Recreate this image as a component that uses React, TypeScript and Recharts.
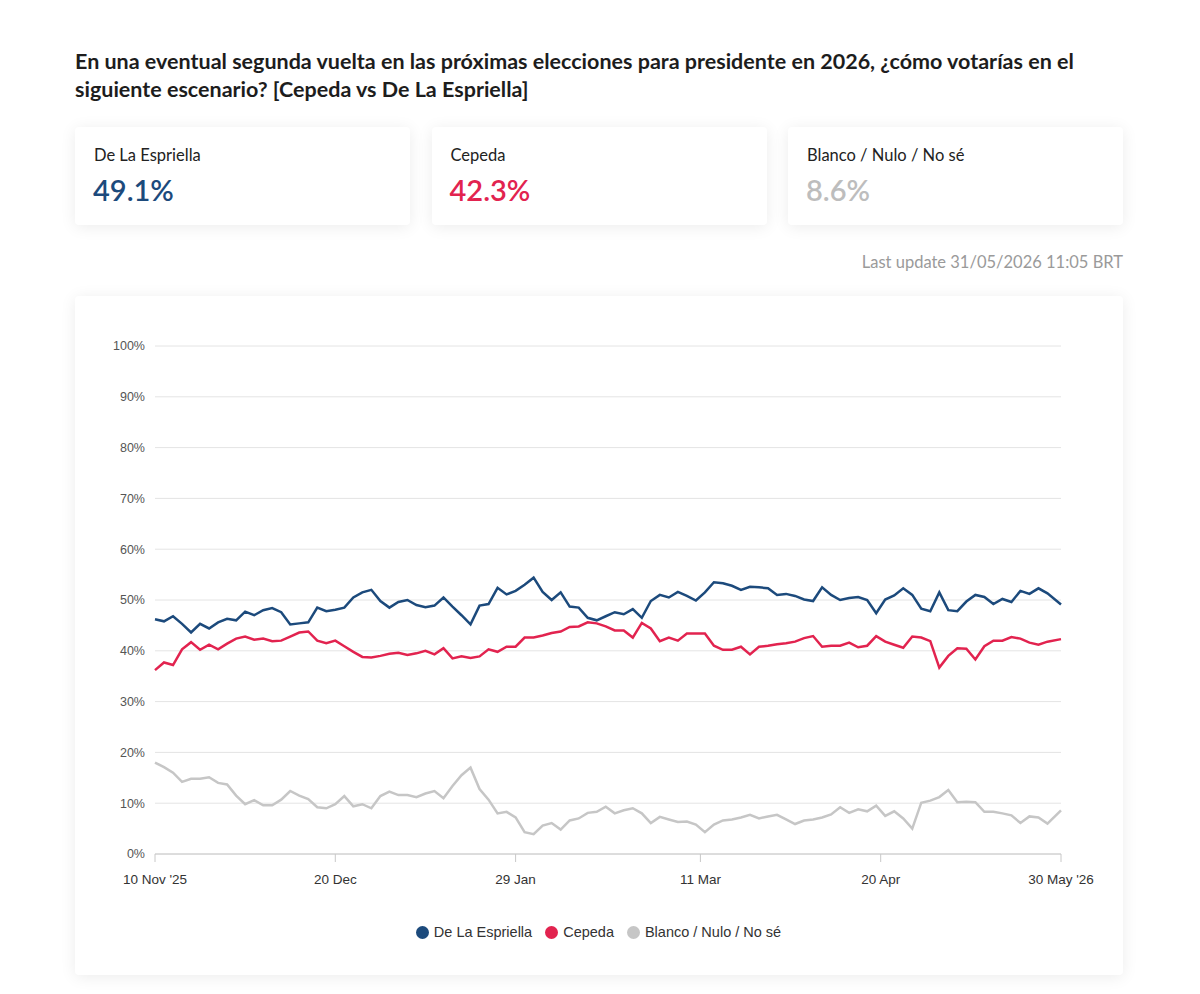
import { LineChart, Line, XAxis, YAxis, CartesianGrid, Legend } from "recharts";

// Daily tracking, one reading every 2 days from 10 Nov '25 to 30 May '26
const espriella = [
  46.2, 45.8, 46.8, 45.3, 43.6, 45.3, 44.4, 45.6, 46.3, 46.0,
  47.7, 47.0, 48.0, 48.4, 47.6, 45.2, 45.4, 45.6, 48.5, 47.8,
  48.1, 48.5, 50.5, 51.5, 52.0, 49.8, 48.5, 49.6, 50.0, 49.0,
  48.6, 48.9, 50.5, 48.7, 47.0, 45.2, 48.9, 49.2, 52.4, 51.1,
  51.8, 53.0, 54.4, 51.6, 50.0, 51.5, 48.7, 48.5, 46.5, 46.0,
  46.8, 47.6, 47.2, 48.2, 46.5, 49.8, 51.0, 50.5, 51.6, 50.8,
  49.9, 51.5, 53.5, 53.3, 52.8, 52.0, 52.6, 52.5, 52.3, 51.0,
  51.2, 50.8, 50.1, 49.8, 52.5, 51.0, 50.0, 50.4, 50.6, 50.0,
  47.4, 50.1, 50.9, 52.3, 51.0, 48.3, 47.8, 51.5, 48.0, 47.8,
  49.7, 51.0, 50.6, 49.2, 50.2, 49.6, 51.8, 51.2, 52.3, 51.3, 49.1,
];

const cepeda = [
  36.2, 37.7, 37.2, 40.3, 41.7, 40.2, 41.2, 40.3, 41.4, 42.4,
  42.8, 42.2, 42.4, 41.9, 42.0, 42.8, 43.6, 43.8, 42.0, 41.5,
  42.0, 40.9, 39.8, 38.8, 38.7, 39.0, 39.4, 39.6, 39.2, 39.5,
  40.0, 39.3, 40.5, 38.5, 38.9, 38.6, 38.9, 40.3, 39.8, 40.8,
  40.8, 42.6, 42.6, 43.0, 43.5, 43.8, 44.7, 44.8, 45.6, 45.4,
  44.8, 44.0, 44.0, 42.6, 45.5, 44.4, 41.9, 42.6, 42.0, 43.4,
  43.4, 43.4, 41.0, 40.2, 40.2, 40.8, 39.3, 40.8, 41.0, 41.3,
  41.5, 41.8, 42.5, 42.9, 40.8, 41.0, 41.0, 41.6, 40.7, 41.0,
  42.9, 41.8, 41.2, 40.6, 42.8, 42.6, 41.9, 36.7, 39.0, 40.5,
  40.4, 38.3, 40.9, 42.0, 42.0, 42.7, 42.4, 41.6, 41.2, 41.8, 42.3,
];

const blanco = [
  18.0, 17.1, 16.0, 14.2, 14.8, 14.8, 15.1, 14.0, 13.7, 11.5,
  9.8, 10.6, 9.6, 9.6, 10.7, 12.4, 11.5, 10.8, 9.2, 9.0,
  9.8, 11.4, 9.4, 9.8, 9.0, 11.4, 12.3, 11.6, 11.6, 11.2,
  11.9, 12.4, 11.0, 13.4, 15.5, 17.0, 12.8, 10.7, 8.0, 8.3,
  7.2, 4.3, 3.9, 5.6, 6.1, 4.8, 6.6, 7.0, 8.1, 8.3,
  9.3, 8.0, 8.6, 9.0, 8.0, 6.1, 7.3, 6.8, 6.3, 6.4,
  5.8, 4.3, 5.8, 6.6, 6.8, 7.2, 7.7, 7.0, 7.4, 7.7,
  6.8, 5.9, 6.6, 6.8, 7.2, 7.8, 9.2, 8.1, 8.8, 8.4,
  9.5, 7.5, 8.4, 7.0, 5.0, 10.1, 10.5, 11.2, 12.6, 10.2,
  10.3, 10.2, 8.3, 8.3, 8.0, 7.6, 6.1, 7.4, 7.2, 6.0, 8.6,
];

const STEP_DAYS = 2;
const LAST_DAY = 201;

const dateTicks = [0, 40, 80, 121, 161, 201];
const dateLabels = ["10 Nov '25", "20 Dec", "29 Jan", "11 Mar", "20 Apr", "30 May '26"];
const pctTicks = [0, 10, 20, 30, 40, 50, 60, 70, 80, 90, 100];

const series = [
  { key: "espriella", name: "De La Espriella", color: "#1c4a7c", card: "#1c4a7c", values: espriella },
  { key: "cepeda", name: "Cepeda", color: "#e2234f", card: "#e2234f", values: cepeda },
  { key: "blanco", name: "Blanco / Nulo / No sé", color: "#c6c6c6", card: "#bdbdbd", values: blanco },
];

const data = espriella.map((_, i) => ({
  day: i === espriella.length - 1 ? LAST_DAY : i * STEP_DAYS,
  espriella: espriella[i],
  cepeda: cepeda[i],
  blanco: blanco[i],
}));

const cardShadow = "0 2px 16px rgba(0,0,0,0.08)";

function SummaryCard({ name, color, value, left }: { name: string; color: string; value: number; left: number }) {
  return (
    <div
      style={{
        position: "absolute",
        left,
        top: 127,
        width: 335,
        height: 98,
        background: "#fff",
        borderRadius: 4,
        boxShadow: cardShadow,
      }}
    >
      <div style={{ position: "absolute", left: 19, top: 17, fontSize: 16.5, color: "#222", lineHeight: "22px" }}>{name}</div>
      <div style={{ position: "absolute", left: 18, top: 45, fontSize: 29, fontWeight: 600, color, lineHeight: "36px" }}>
        {value.toFixed(1)}%
      </div>
    </div>
  );
}

function LegendRow() {
  return (
    <div style={{ display: "flex", justifyContent: "center", alignItems: "center", height: 24 }}>
      {series.map((s) => (
        <div key={s.key} style={{ display: "flex", alignItems: "center", marginRight: 7, marginLeft: 6 }}>
          <span
            style={{
              width: 13,
              height: 13,
              borderRadius: "50%",
              background: s.color,
              display: "inline-block",
              marginRight: 5,
            }}
          />
          <span style={{ fontSize: 14.5, color: "#333" }}>{s.name}</span>
        </div>
      ))}
    </div>
  );
}

export default function App() {
  return (
    <div
      style={{
        position: "absolute",
        left: 0,
        top: 0,
        width: 1200,
        height: 994,
        background: "#fff",
        fontFamily: "Lato, 'Open Sans', sans-serif",
      }}
    >
      <div
        style={{
          position: "absolute",
          left: 75,
          top: 47,
          width: 1050,
          fontSize: 21.5,
          fontWeight: 700,
          lineHeight: "28px",
          color: "#1d1d1d",
        }}
      >
        En una eventual segunda vuelta en las próximas elecciones para presidente en 2026, ¿cómo votarías en el
        siguiente escenario? [Cepeda vs De La Espriella]
      </div>

      {series.map((s, i) => (
        <SummaryCard
          key={s.key}
          name={s.name}
          color={s.card}
          value={s.values[s.values.length - 1]}
          left={75 + i * 356.5}
        />
      ))}

      <div style={{ position: "absolute", right: 77, top: 251, fontSize: 16.5, color: "#9a9a9a", lineHeight: "22px" }}>
        Last update 31/05/2026 11:05 BRT
      </div>

      <div
        style={{
          position: "absolute",
          left: 75,
          top: 296,
          width: 1048,
          height: 679,
          background: "#fff",
          borderRadius: 4,
          boxShadow: cardShadow,
          fontFamily: "'Liberation Sans', Arial, sans-serif",
        }}
      >
        <LineChart width={1048} height={679} data={data} margin={{ top: 50, right: 62, left: 0, bottom: 31 }}>
          <CartesianGrid vertical={false} stroke="#e4e4e4" />
          <XAxis
            dataKey="day"
            type="number"
            domain={[0, LAST_DAY]}
            ticks={dateTicks}
            tickFormatter={(v: number) => dateLabels[dateTicks.indexOf(v)] ?? ""}
            stroke="#c8c8c8"
            tickSize={8}
            tickMargin={12}
            height={66}
            tick={{ fontSize: 13.5, fill: "#333" }}
          />
          <YAxis
            domain={[0, 100]}
            ticks={pctTicks}
            tickFormatter={(v: number) => `${v}%`}
            axisLine={false}
            tickLine={false}
            tickSize={6}
            tickMargin={4}
            width={80}
            tick={{ fontSize: 12.5, fill: "#555" }}
          />
          <Legend
            verticalAlign="bottom"
            height={24}
            wrapperStyle={{ left: 0, width: 1048 }}
            content={() => <LegendRow />}
          />
          {series.map((s) => (
            <Line
              key={s.key}
              type="linear"
              dataKey={s.key}
              name={s.name}
              stroke={s.color}
              strokeWidth={2.5}
              dot={false}
              isAnimationActive={false}
            />
          ))}
        </LineChart>
      </div>
    </div>
  );
}
